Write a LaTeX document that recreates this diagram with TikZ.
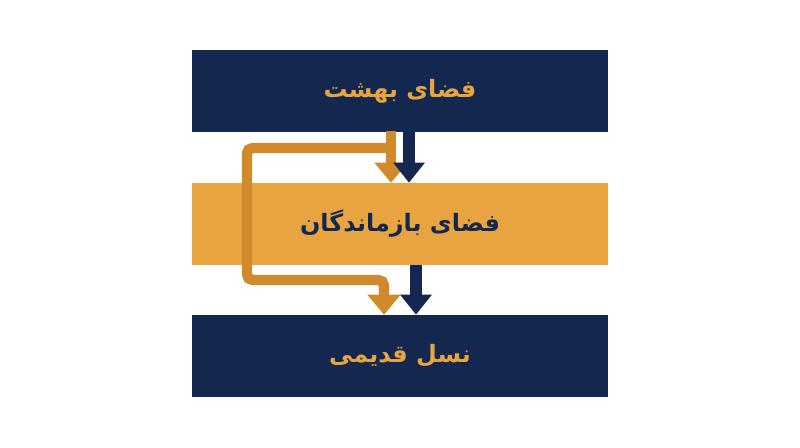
\documentclass[tikz,border=0pt]{standalone}
\usepackage{fontspec}
\usepackage{tikz}
\usetikzlibrary{arrows.meta}
\TeXXeTstate=1
\newfontfamily\arabicfont[Script=Arabic]{DejaVu Sans}
\definecolor{navy}{HTML}{14284F}
\definecolor{gold}{HTML}{E8A440}
\definecolor{darkgold}{HTML}{D18A2B}
\def\w{416}
\def\h{82}
\tikzset{
band/.style={minimum width=\w*0.025cm, minimum height=\h*0.025cm, inner sep=0pt, font=\arabicfont\bfseries\fontsize{17}{20}\selectfont},
navyarrow/.style={draw=navy, line width=0.28cm, -{Triangle[width=0.76cm,length=0.5cm]}},
goldarrow/.style={draw=darkgold, line width=0.26cm, -{Triangle[width=0.8cm,length=0.5cm]}, rounded corners=4pt}
}

\begin{document}
\begin{tikzpicture}[x=0.025cm,y=-0.025cm]
\useasboundingbox (0,0) rectangle (800,447);

\node[band, fill=navy, text=gold] (heaven) at (400,91) {\beginR فضای بهشت\endR};
\node[band, fill=gold, text=navy] (survivors) at (400,224) {\beginR فضای بازماندگان\endR};
\node[band, fill=navy, text=gold] (old) at (400,356) {\beginR نسل قدیمی\endR};

\coordinate (A) at (391,131);
\coordinate (B) at (391,148);
\coordinate (C) at (247,280);
\coordinate (D) at (384,280);
\coordinate (E) at (409,131);
\coordinate (F) at (416,265);

% gold paths
\draw[goldarrow] (A) -- (survivors.north -| A);
\draw[goldarrow] (B) -| (C) -- (D) -- (old.north -| D);
% navy paths
\draw[navyarrow] (E) -- (survivors.north -| E);
\draw[navyarrow] (F) -- (old.north -| F);
\end{tikzpicture}
\end{document}
